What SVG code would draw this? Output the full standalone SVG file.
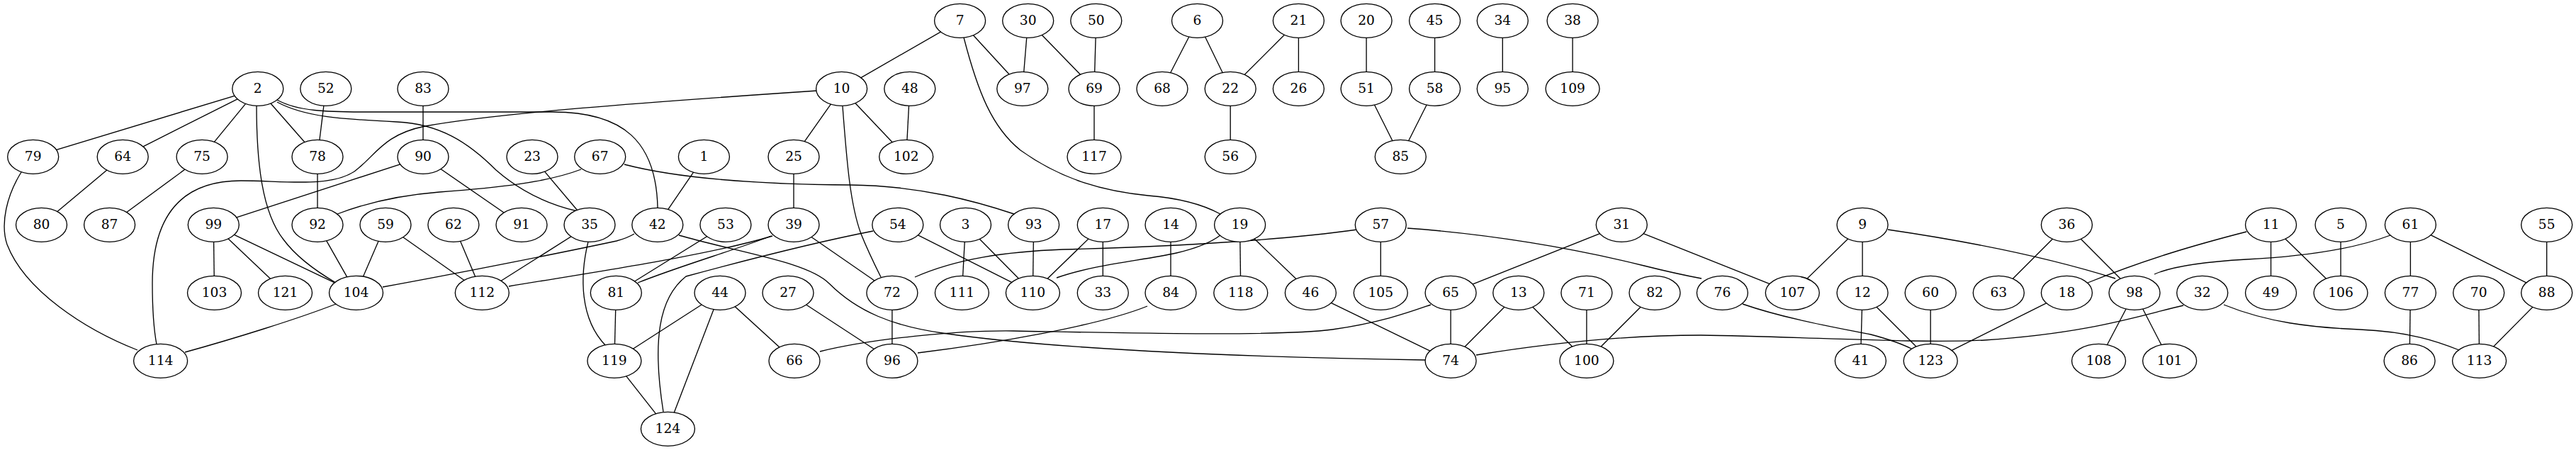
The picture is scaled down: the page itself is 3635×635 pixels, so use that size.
<svg xmlns="http://www.w3.org/2000/svg" width="3635" height="635" viewBox="0 0 3635 635">
<style>
.node ellipse{fill:#fff;stroke:#000;stroke-width:1.33}
.node text{font-family:"DejaVu Serif","Liberation Serif",serif;font-size:18.67px;text-anchor:middle;fill:#000}
#edges path{fill:none;stroke:#000;stroke-width:1.33}
</style>
<rect width="3635" height="635" fill="#fff"/>
<g id="edges">
<path d="M363.8,125.3L46.7,221.3"/>
<path d="M363.8,125.3L173.2,221.3"/>
<path d="M363.8,125.3L285.1,221.3"/>
<path d="M363.8,125.3L448,221.3"/>
<path d="M459.8,125.3L448,221.3"/>
<path d="M597,125.3L597,221.3"/>
<path d="M173.2,221.3L58.5,317.3"/>
<path d="M285.1,221.3L154.6,317.3"/>
<path d="M448,221.3L448,317.3"/>
<path d="M597,221.3L301.3,317.3"/>
<path d="M597,221.3L736,317.3"/>
<path d="M301.3,317.3L302.5,413.3"/>
<path d="M301.3,317.3L402.5,413.3"/>
<path d="M301.3,317.3L502.5,413.3"/>
<path d="M448,317.3L502.5,413.3"/>
<path d="M544,317.3L502.5,413.3"/>
<path d="M544,317.3L680.3,413.3"/>
<path d="M751,221.3L832,317.3"/>
<path d="M993.4,221.3L927.8,317.3"/>
<path d="M639.9,317.3L680.3,413.3"/>
<path d="M832,317.3L680.3,413.3"/>
<path d="M830,341C818,390 818,450 855,488"/>
<path d="M1023.9,317.3L869.3,413.3"/>
<path d="M1120,317.3L1258.9,413.3"/>
<path d="M1187.6,125.3L1120,221.3"/>
<path d="M1187.6,125.3L1278.7,221.3"/>
<path d="M1120,221.3L1120,317.3"/>
<path d="M1266.8,317.3L1457.4,413.3"/>
<path d="M1016,413.3L866.9,509.3"/>
<path d="M1016,413.3L942.4,605.3"/>
<path d="M1016,413.3L1121,509.3"/>
<path d="M869.3,413.3L866.9,509.3"/>
<path d="M866.9,509.3L942.4,605.3"/>
<path d="M1112,413.3L1258.9,509.3"/>
<path d="M1354.6,29.3L1187.6,125.3"/>
<path d="M1354.6,29.3L1442.8,125.3"/>
<path d="M1450.7,29.3L1442.8,125.3"/>
<path d="M1450.7,29.3L1544,125.3"/>
<path d="M1546.8,29.3L1544,125.3"/>
<path d="M1544,125.3L1544,221.3"/>
<path d="M1283.8,125.3L1278.7,221.3"/>
<path d="M1689.5,29.3L1640,125.3"/>
<path d="M1689.5,29.3L1736.2,125.3"/>
<path d="M1832.4,29.3L1736.2,125.3"/>
<path d="M1832.4,29.3L1832.4,125.3"/>
<path d="M1736.2,125.3L1736.2,221.3"/>
<path d="M1362.5,317.3L1357.4,413.3"/>
<path d="M1362.5,317.3L1457.4,413.3"/>
<path d="M1458.6,317.3L1457.4,413.3"/>
<path d="M1556.3,317.3L1457.4,413.3"/>
<path d="M1556.3,317.3L1556.3,413.3"/>
<path d="M1652,317.3L1652,413.3"/>
<path d="M1749.6,317.3L1750.8,413.3"/>
<path d="M1749.6,317.3L1849.4,413.3"/>
<path d="M1258.9,413.3L1258.9,509.3"/>
<path d="M1948.3,317.3L1948.3,413.3"/>
<path d="M1928.1,29.3L1928.1,125.3"/>
<path d="M2024.6,29.3L2024.6,125.3"/>
<path d="M1928.1,125.3L1976.3,221.3"/>
<path d="M2024.6,125.3L1976.3,221.3"/>
<path d="M2120.3,29.3L2120.3,125.3"/>
<path d="M2219.1,29.3L2219.1,125.3"/>
<path d="M2288.3,317.3L2047.1,413.3"/>
<path d="M2288.3,317.3L2529.3,413.3"/>
<path d="M1849.4,413.3L2047.1,509.3"/>
<path d="M2047.1,413.3L2047.1,509.3"/>
<path d="M2142.8,413.3L2047.1,509.3"/>
<path d="M2142.8,413.3L2238.9,509.3"/>
<path d="M2238.9,413.3L2238.9,509.3"/>
<path d="M2335,413.3L2238.9,509.3"/>
<path d="M2628.1,317.3L2529.3,413.3"/>
<path d="M2628.1,317.3L2628.1,413.3"/>
<path d="M2628.1,413.3L2625.4,509.3"/>
<path d="M2628.1,413.3L2724.2,509.3"/>
<path d="M2724.2,413.3L2724.2,509.3"/>
<path d="M2916.4,317.3L2820.3,413.3"/>
<path d="M2916.4,317.3L3012,413.3"/>
<path d="M2916.4,413.3L2724.2,509.3"/>
<path d="M3012,413.3L2961.5,509.3"/>
<path d="M3012,413.3L3061.6,509.3"/>
<path d="M3204.5,317.3L3204.5,413.3"/>
<path d="M3204.5,317.3L3303,413.3"/>
<path d="M3303,317.3L3303,413.3"/>
<path d="M3401.4,317.3L3401.4,413.3"/>
<path d="M3401.4,317.3L3593.7,413.3"/>
<path d="M3593.7,317.3L3593.7,413.3"/>
<path d="M3401.4,413.3L3400.1,509.3"/>
<path d="M3497.7,413.3L3498.6,509.3"/>
<path d="M3593.7,413.3L3498.6,509.3"/>
<path d="M391,141C420,157 460,158 520,158L780,158C880,158 926,200 928,293"/>
<path d="M391,144C430,165 480,168 560,172C620,175 660,200 700,240C740,275 780,290 815,298"/>
<path d="M1153,128C900,145 700,160 600,178C540,190 530,220 500,242C465,265 400,255 340,255C260,255 215,300 215,400C215,440 218,470 221,486"/>
<path d="M30,243C10,275 0,315 10,345C35,410 120,465 194,494"/>
<path d="M474,429C420,450 330,478 261,497"/>
<path d="M362,149C362,230 370,300 400,338C420,365 450,385 474,399"/>
<path d="M540,405C650,385 800,355 870,340C885,336 890,333 895,330"/>
<path d="M476,302C520,285 570,275 620,271C700,265 770,258 820,239"/>
<path d="M881,232C950,250 1050,260 1200,261C1300,262 1380,285 1431,302"/>
<path d="M1189,150C1195,230 1200,290 1215,330C1225,355 1235,375 1243,391"/>
<path d="M718,404C850,382 1000,360 1090,333"/>
<path d="M900,399C960,375 1040,352 1088,333"/>
<path d="M936,581C920,480 930,420 968,390C1060,365 1160,340 1232,326"/>
<path d="M958,332C1050,358 1140,370 1170,400C1210,440 1260,460 1330,470C1500,495 1800,505 2011,508"/>
<path d="M1157,496C1230,478 1350,466 1430,467C1600,470 1800,475 1880,465C1950,455 1990,440 2019,430"/>
<path d="M1360,53C1380,130 1400,180 1440,212C1500,255 1560,270 1620,276C1670,280 1700,290 1722,302"/>
<path d="M1291,391C1350,365 1420,355 1500,352C1650,348 1800,340 1915,324"/>
<path d="M1491,392C1545,373 1610,368 1660,357C1690,350 1710,341 1722,332"/>
<path d="M1295,498C1400,485 1550,460 1619,432"/>
<path d="M1986,322C2100,330 2220,350 2320,375C2360,385 2385,390 2401,393"/>
<path d="M2083,501C2200,482 2300,473 2400,473C2550,475 2700,485 2800,480C2950,470 3020,445 3081,431"/>
<path d="M2459,429C2520,450 2590,462 2640,472C2670,480 2685,486 2697,492"/>
<path d="M2664,324C2760,338 2880,360 2985,393"/>
<path d="M3170,327C3100,345 3030,365 2946,399"/>
<path d="M3373,332C3320,352 3250,362 3170,366C3100,370 3060,378 3040,387"/>
<path d="M3138,430C3200,455 3260,462 3330,465C3400,468 3440,482 3470,494"/>
</g>
<g id="nodes">
<g id="n7" class="node"><ellipse cx="1354.6" cy="29.3" rx="36" ry="24"/><text x="1354.6" y="34.5">7</text></g>
<g id="n30" class="node"><ellipse cx="1450.7" cy="29.3" rx="36" ry="24"/><text x="1450.7" y="34.5">30</text></g>
<g id="n50" class="node"><ellipse cx="1546.8" cy="29.3" rx="36" ry="24"/><text x="1546.8" y="34.5">50</text></g>
<g id="n6" class="node"><ellipse cx="1689.5" cy="29.3" rx="36" ry="24"/><text x="1689.5" y="34.5">6</text></g>
<g id="n21" class="node"><ellipse cx="1832.4" cy="29.3" rx="36" ry="24"/><text x="1832.4" y="34.5">21</text></g>
<g id="n20" class="node"><ellipse cx="1928.1" cy="29.3" rx="36" ry="24"/><text x="1928.1" y="34.5">20</text></g>
<g id="n45" class="node"><ellipse cx="2024.6" cy="29.3" rx="36" ry="24"/><text x="2024.6" y="34.5">45</text></g>
<g id="n34" class="node"><ellipse cx="2120.3" cy="29.3" rx="36" ry="24"/><text x="2120.3" y="34.5">34</text></g>
<g id="n38" class="node"><ellipse cx="2219.1" cy="29.3" rx="36" ry="24"/><text x="2219.1" y="34.5">38</text></g>
<g id="n2" class="node"><ellipse cx="363.8" cy="125.3" rx="36" ry="24"/><text x="363.8" y="130.5">2</text></g>
<g id="n52" class="node"><ellipse cx="459.8" cy="125.3" rx="36" ry="24"/><text x="459.8" y="130.5">52</text></g>
<g id="n83" class="node"><ellipse cx="597" cy="125.3" rx="36" ry="24"/><text x="597" y="130.5">83</text></g>
<g id="n10" class="node"><ellipse cx="1187.6" cy="125.3" rx="36" ry="24"/><text x="1187.6" y="130.5">10</text></g>
<g id="n48" class="node"><ellipse cx="1283.8" cy="125.3" rx="36" ry="24"/><text x="1283.8" y="130.5">48</text></g>
<g id="n97" class="node"><ellipse cx="1442.8" cy="125.3" rx="36" ry="24"/><text x="1442.8" y="130.5">97</text></g>
<g id="n69" class="node"><ellipse cx="1544" cy="125.3" rx="36" ry="24"/><text x="1544" y="130.5">69</text></g>
<g id="n68" class="node"><ellipse cx="1640" cy="125.3" rx="36" ry="24"/><text x="1640" y="130.5">68</text></g>
<g id="n22" class="node"><ellipse cx="1736.2" cy="125.3" rx="36" ry="24"/><text x="1736.2" y="130.5">22</text></g>
<g id="n26" class="node"><ellipse cx="1832.4" cy="125.3" rx="36" ry="24"/><text x="1832.4" y="130.5">26</text></g>
<g id="n51" class="node"><ellipse cx="1928.1" cy="125.3" rx="36" ry="24"/><text x="1928.1" y="130.5">51</text></g>
<g id="n58" class="node"><ellipse cx="2024.6" cy="125.3" rx="36" ry="24"/><text x="2024.6" y="130.5">58</text></g>
<g id="n95" class="node"><ellipse cx="2120.3" cy="125.3" rx="36" ry="24"/><text x="2120.3" y="130.5">95</text></g>
<g id="n109" class="node"><ellipse cx="2219.1" cy="125.3" rx="38" ry="24"/><text x="2219.1" y="130.5">109</text></g>
<g id="n79" class="node"><ellipse cx="46.7" cy="221.3" rx="36" ry="24"/><text x="46.7" y="226.5">79</text></g>
<g id="n64" class="node"><ellipse cx="173.2" cy="221.3" rx="36" ry="24"/><text x="173.2" y="226.5">64</text></g>
<g id="n75" class="node"><ellipse cx="285.1" cy="221.3" rx="36" ry="24"/><text x="285.1" y="226.5">75</text></g>
<g id="n78" class="node"><ellipse cx="448" cy="221.3" rx="36" ry="24"/><text x="448" y="226.5">78</text></g>
<g id="n90" class="node"><ellipse cx="597" cy="221.3" rx="36" ry="24"/><text x="597" y="226.5">90</text></g>
<g id="n23" class="node"><ellipse cx="751" cy="221.3" rx="36" ry="24"/><text x="751" y="226.5">23</text></g>
<g id="n67" class="node"><ellipse cx="846.7" cy="221.3" rx="36" ry="24"/><text x="846.7" y="226.5">67</text></g>
<g id="n1" class="node"><ellipse cx="993.4" cy="221.3" rx="36" ry="24"/><text x="993.4" y="226.5">1</text></g>
<g id="n25" class="node"><ellipse cx="1120" cy="221.3" rx="36" ry="24"/><text x="1120" y="226.5">25</text></g>
<g id="n102" class="node"><ellipse cx="1278.7" cy="221.3" rx="38" ry="24"/><text x="1278.7" y="226.5">102</text></g>
<g id="n117" class="node"><ellipse cx="1544" cy="221.3" rx="38" ry="24"/><text x="1544" y="226.5">117</text></g>
<g id="n56" class="node"><ellipse cx="1736.2" cy="221.3" rx="36" ry="24"/><text x="1736.2" y="226.5">56</text></g>
<g id="n85" class="node"><ellipse cx="1976.3" cy="221.3" rx="36" ry="24"/><text x="1976.3" y="226.5">85</text></g>
<g id="n80" class="node"><ellipse cx="58.5" cy="317.3" rx="36" ry="24"/><text x="58.5" y="322.5">80</text></g>
<g id="n87" class="node"><ellipse cx="154.6" cy="317.3" rx="36" ry="24"/><text x="154.6" y="322.5">87</text></g>
<g id="n99" class="node"><ellipse cx="301.3" cy="317.3" rx="36" ry="24"/><text x="301.3" y="322.5">99</text></g>
<g id="n92" class="node"><ellipse cx="448" cy="317.3" rx="36" ry="24"/><text x="448" y="322.5">92</text></g>
<g id="n59" class="node"><ellipse cx="544" cy="317.3" rx="36" ry="24"/><text x="544" y="322.5">59</text></g>
<g id="n62" class="node"><ellipse cx="639.9" cy="317.3" rx="36" ry="24"/><text x="639.9" y="322.5">62</text></g>
<g id="n91" class="node"><ellipse cx="736" cy="317.3" rx="36" ry="24"/><text x="736" y="322.5">91</text></g>
<g id="n35" class="node"><ellipse cx="832" cy="317.3" rx="36" ry="24"/><text x="832" y="322.5">35</text></g>
<g id="n42" class="node"><ellipse cx="927.8" cy="317.3" rx="36" ry="24"/><text x="927.8" y="322.5">42</text></g>
<g id="n53" class="node"><ellipse cx="1023.9" cy="317.3" rx="36" ry="24"/><text x="1023.9" y="322.5">53</text></g>
<g id="n39" class="node"><ellipse cx="1120" cy="317.3" rx="36" ry="24"/><text x="1120" y="322.5">39</text></g>
<g id="n54" class="node"><ellipse cx="1266.8" cy="317.3" rx="36" ry="24"/><text x="1266.8" y="322.5">54</text></g>
<g id="n3" class="node"><ellipse cx="1362.5" cy="317.3" rx="36" ry="24"/><text x="1362.5" y="322.5">3</text></g>
<g id="n93" class="node"><ellipse cx="1458.6" cy="317.3" rx="36" ry="24"/><text x="1458.6" y="322.5">93</text></g>
<g id="n17" class="node"><ellipse cx="1556.3" cy="317.3" rx="36" ry="24"/><text x="1556.3" y="322.5">17</text></g>
<g id="n14" class="node"><ellipse cx="1652" cy="317.3" rx="36" ry="24"/><text x="1652" y="322.5">14</text></g>
<g id="n19" class="node"><ellipse cx="1749.6" cy="317.3" rx="36" ry="24"/><text x="1749.6" y="322.5">19</text></g>
<g id="n57" class="node"><ellipse cx="1948.3" cy="317.3" rx="36" ry="24"/><text x="1948.3" y="322.5">57</text></g>
<g id="n31" class="node"><ellipse cx="2288.3" cy="317.3" rx="36" ry="24"/><text x="2288.3" y="322.5">31</text></g>
<g id="n9" class="node"><ellipse cx="2628.1" cy="317.3" rx="36" ry="24"/><text x="2628.1" y="322.5">9</text></g>
<g id="n36" class="node"><ellipse cx="2916.4" cy="317.3" rx="36" ry="24"/><text x="2916.4" y="322.5">36</text></g>
<g id="n11" class="node"><ellipse cx="3204.5" cy="317.3" rx="36" ry="24"/><text x="3204.5" y="322.5">11</text></g>
<g id="n5" class="node"><ellipse cx="3303" cy="317.3" rx="36" ry="24"/><text x="3303" y="322.5">5</text></g>
<g id="n61" class="node"><ellipse cx="3401.4" cy="317.3" rx="36" ry="24"/><text x="3401.4" y="322.5">61</text></g>
<g id="n55" class="node"><ellipse cx="3593.7" cy="317.3" rx="36" ry="24"/><text x="3593.7" y="322.5">55</text></g>
<g id="n103" class="node"><ellipse cx="302.5" cy="413.3" rx="38" ry="24"/><text x="302.5" y="418.5">103</text></g>
<g id="n121" class="node"><ellipse cx="402.5" cy="413.3" rx="38" ry="24"/><text x="402.5" y="418.5">121</text></g>
<g id="n104" class="node"><ellipse cx="502.5" cy="413.3" rx="38" ry="24"/><text x="502.5" y="418.5">104</text></g>
<g id="n112" class="node"><ellipse cx="680.3" cy="413.3" rx="38" ry="24"/><text x="680.3" y="418.5">112</text></g>
<g id="n81" class="node"><ellipse cx="869.3" cy="413.3" rx="36" ry="24"/><text x="869.3" y="418.5">81</text></g>
<g id="n44" class="node"><ellipse cx="1016" cy="413.3" rx="36" ry="24"/><text x="1016" y="418.5">44</text></g>
<g id="n27" class="node"><ellipse cx="1112" cy="413.3" rx="36" ry="24"/><text x="1112" y="418.5">27</text></g>
<g id="n72" class="node"><ellipse cx="1258.9" cy="413.3" rx="36" ry="24"/><text x="1258.9" y="418.5">72</text></g>
<g id="n111" class="node"><ellipse cx="1357.4" cy="413.3" rx="38" ry="24"/><text x="1357.4" y="418.5">111</text></g>
<g id="n110" class="node"><ellipse cx="1457.4" cy="413.3" rx="38" ry="24"/><text x="1457.4" y="418.5">110</text></g>
<g id="n33" class="node"><ellipse cx="1556.3" cy="413.3" rx="36" ry="24"/><text x="1556.3" y="418.5">33</text></g>
<g id="n84" class="node"><ellipse cx="1652" cy="413.3" rx="36" ry="24"/><text x="1652" y="418.5">84</text></g>
<g id="n118" class="node"><ellipse cx="1750.8" cy="413.3" rx="38" ry="24"/><text x="1750.8" y="418.5">118</text></g>
<g id="n46" class="node"><ellipse cx="1849.4" cy="413.3" rx="36" ry="24"/><text x="1849.4" y="418.5">46</text></g>
<g id="n105" class="node"><ellipse cx="1948.3" cy="413.3" rx="38" ry="24"/><text x="1948.3" y="418.5">105</text></g>
<g id="n65" class="node"><ellipse cx="2047.1" cy="413.3" rx="36" ry="24"/><text x="2047.1" y="418.5">65</text></g>
<g id="n13" class="node"><ellipse cx="2142.8" cy="413.3" rx="36" ry="24"/><text x="2142.8" y="418.5">13</text></g>
<g id="n71" class="node"><ellipse cx="2238.9" cy="413.3" rx="36" ry="24"/><text x="2238.9" y="418.5">71</text></g>
<g id="n82" class="node"><ellipse cx="2335" cy="413.3" rx="36" ry="24"/><text x="2335" y="418.5">82</text></g>
<g id="n76" class="node"><ellipse cx="2430.4" cy="413.3" rx="36" ry="24"/><text x="2430.4" y="418.5">76</text></g>
<g id="n107" class="node"><ellipse cx="2529.3" cy="413.3" rx="38" ry="24"/><text x="2529.3" y="418.5">107</text></g>
<g id="n12" class="node"><ellipse cx="2628.1" cy="413.3" rx="36" ry="24"/><text x="2628.1" y="418.5">12</text></g>
<g id="n60" class="node"><ellipse cx="2724.2" cy="413.3" rx="36" ry="24"/><text x="2724.2" y="418.5">60</text></g>
<g id="n63" class="node"><ellipse cx="2820.3" cy="413.3" rx="36" ry="24"/><text x="2820.3" y="418.5">63</text></g>
<g id="n18" class="node"><ellipse cx="2916.4" cy="413.3" rx="36" ry="24"/><text x="2916.4" y="418.5">18</text></g>
<g id="n98" class="node"><ellipse cx="3012" cy="413.3" rx="36" ry="24"/><text x="3012" y="418.5">98</text></g>
<g id="n32" class="node"><ellipse cx="3107.7" cy="413.3" rx="36" ry="24"/><text x="3107.7" y="418.5">32</text></g>
<g id="n49" class="node"><ellipse cx="3204.5" cy="413.3" rx="36" ry="24"/><text x="3204.5" y="418.5">49</text></g>
<g id="n106" class="node"><ellipse cx="3303" cy="413.3" rx="38" ry="24"/><text x="3303" y="418.5">106</text></g>
<g id="n77" class="node"><ellipse cx="3401.4" cy="413.3" rx="36" ry="24"/><text x="3401.4" y="418.5">77</text></g>
<g id="n70" class="node"><ellipse cx="3497.7" cy="413.3" rx="36" ry="24"/><text x="3497.7" y="418.5">70</text></g>
<g id="n88" class="node"><ellipse cx="3593.7" cy="413.3" rx="36" ry="24"/><text x="3593.7" y="418.5">88</text></g>
<g id="n114" class="node"><ellipse cx="226.6" cy="509.3" rx="38" ry="24"/><text x="226.6" y="514.5">114</text></g>
<g id="n119" class="node"><ellipse cx="866.9" cy="509.3" rx="38" ry="24"/><text x="866.9" y="514.5">119</text></g>
<g id="n66" class="node"><ellipse cx="1121" cy="509.3" rx="36" ry="24"/><text x="1121" y="514.5">66</text></g>
<g id="n96" class="node"><ellipse cx="1258.9" cy="509.3" rx="36" ry="24"/><text x="1258.9" y="514.5">96</text></g>
<g id="n74" class="node"><ellipse cx="2047.1" cy="509.3" rx="36" ry="24"/><text x="2047.1" y="514.5">74</text></g>
<g id="n100" class="node"><ellipse cx="2238.9" cy="509.3" rx="38" ry="24"/><text x="2238.9" y="514.5">100</text></g>
<g id="n41" class="node"><ellipse cx="2625.4" cy="509.3" rx="36" ry="24"/><text x="2625.4" y="514.5">41</text></g>
<g id="n123" class="node"><ellipse cx="2724.2" cy="509.3" rx="38" ry="24"/><text x="2724.2" y="514.5">123</text></g>
<g id="n108" class="node"><ellipse cx="2961.5" cy="509.3" rx="38" ry="24"/><text x="2961.5" y="514.5">108</text></g>
<g id="n101" class="node"><ellipse cx="3061.6" cy="509.3" rx="38" ry="24"/><text x="3061.6" y="514.5">101</text></g>
<g id="n86" class="node"><ellipse cx="3400.1" cy="509.3" rx="36" ry="24"/><text x="3400.1" y="514.5">86</text></g>
<g id="n113" class="node"><ellipse cx="3498.6" cy="509.3" rx="38" ry="24"/><text x="3498.6" y="514.5">113</text></g>
<g id="n124" class="node"><ellipse cx="942.4" cy="605.3" rx="38" ry="24"/><text x="942.4" y="610.5">124</text></g>
</g>
</svg>
